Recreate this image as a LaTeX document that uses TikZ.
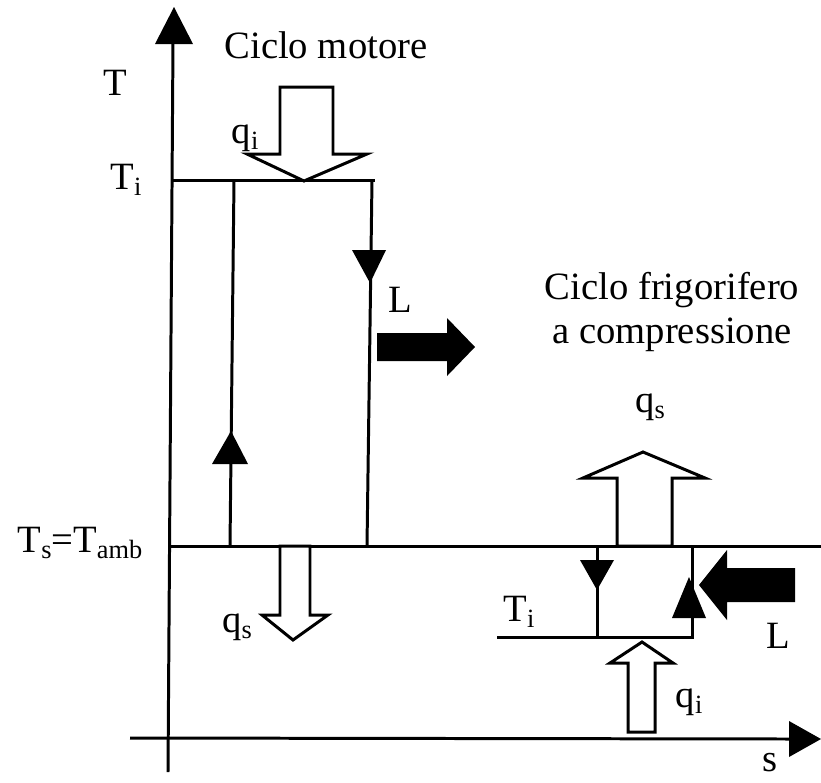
\documentclass[tikz,border=0pt]{standalone}
\usepackage{fontspec}
\setmainfont{Liberation Serif}
\newcommand\lsub[1]{\raisebox{-0.35ex}{\fontsize{15}{15}\selectfont #1}}
\begin{document}
\begin{tikzpicture}[x=0.02cm,y=-0.02cm, line width=1.7pt,
  lbl/.style={font=\fontsize{22}{25}\selectfont, inner sep=0pt},
  hollow/.style={draw, fill=white, line width=1.7pt, line join=miter},
  solidtip/.style={fill=black, draw=none}]
\useasboundingbox (0,0) rectangle (821,782);
% axes
\coordinate (yb) at (168,772);
\coordinate (yt) at (173,42);
\coordinate (xl) at (130,738);
\coordinate (xr) at (792,739);
\draw (yb) -- (yt);
\fill[solidtip] (155,44) -- (174,7) -- (193,44) -- cycle;
\draw (xl) -- (xr);
\fill[solidtip] (789,721) -- (821,739) -- (789,757) -- cycle;
% isotherms
\coordinate (ti0) at (172,180);
\coordinate (ti1) at (375,180);
\draw (ti0) -- (ti1);
\coordinate (ts0) at (170,546);
\coordinate (ts1) at (821,546);
\draw (ts0) -- (ts1);
% motor cycle verticals
\coordinate (ml1) at (234,180);
\coordinate (ml2) at (230,546);
\coordinate (mr1) at (372,180);
\coordinate (mr2) at (367,546);
\draw (ml2) -- (ml1);
\draw (mr1) -- (mr2);
\fill[solidtip] (352,250) -- (386,250) -- (370,283) -- cycle;
\fill[solidtip] (212,464) -- (248,464) -- (231,431) -- cycle;
% qi motor (hollow down)
\draw[hollow] (280,87) -- (333,87) -- (333,154) -- (367,154) -- (304,181) -- (247,154) -- (280,154) -- cycle;
% qs motor (hollow down)
\draw[hollow] (280,546) -- (310,546) -- (310,615) -- (328,615) -- (293,640) -- (262,615) -- (280,615) -- cycle;
% L motor (solid right)
\fill[solidtip] (377,333) -- (447,333) -- (447,318) -- (475,347) -- (447,376) -- (447,361) -- (377,361) -- cycle;
% refrigerator cycle
\coordinate (fti0) at (497,637);
\coordinate (fbl) at (597,637);
\coordinate (fbr) at (692,637);
\coordinate (ftl) at (597,546);
\coordinate (ftr) at (692,546);
\draw (fti0) -- (fbr) -- (ftr);
\draw (ftl) -- (fbl);
\fill[solidtip] (580,560) -- (614,560) -- (597,590) -- cycle;
\fill[solidtip] (672,618) -- (706,618) -- (689,577) -- cycle;
\draw[hollow] (617,546) -- (672,546) -- (672,478) -- (705,478) -- (643,452) -- (583,478) -- (617,478) -- cycle;
\draw[hollow] (628,732) -- (655,732) -- (655,663) -- (673,663) -- (642,642) -- (610,663) -- (628,663) -- cycle;
\fill[solidtip] (795,568) -- (727,568) -- (727,550) -- (699,585) -- (727,620) -- (727,602) -- (795,602) -- cycle;
% labels
\node[lbl] (lT) at (115,83) {T};
\node[lbl] (lTi) at (126,180) {T\lsub{i}};
\node[lbl] (lTs) at (80,543) {T\lsub{s}=T\lsub{amb}};
\node[lbl] (lmot) at (326,45) {Ciclo motore};
\node[lbl] (lqi) at (245,138) {q\lsub{i}};
\node[lbl] (lL) at (400,300) {L};
\node[lbl] (lqs) at (237,627) {q\lsub{s}};
\node[lbl, align=center] (lfrig) at (672,312) {Ciclo frigorifero\\a compressione};
\node[lbl] (lqs2) at (650,407) {q\lsub{s}};
\node[lbl] (lTi2) at (519,612) {T\lsub{i}};
\node[lbl] (lqi2) at (689,702) {q\lsub{i}};
\node[lbl] (lL2) at (778,636) {L};
\node[lbl] (ls) at (770,763) {s};
\end{tikzpicture}
\end{document}
